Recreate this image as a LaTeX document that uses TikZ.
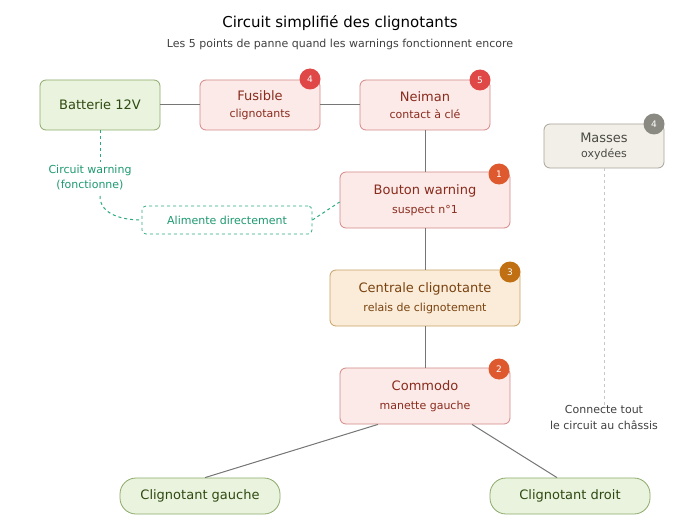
\documentclass[tikz,border=0pt]{standalone}
\usepackage{fontspec}
\setmainfont{DejaVu Sans}
\begin{document}
\begin{tikzpicture}[x=1pt,y=-1pt,
 box/.style={draw,rounded corners=6pt,line width=0.8pt,align=center,inner sep=0pt},
 green/.style={box,fill=gfill,draw=gdraw,text=gtext},
 red/.style={box,fill=rfill,draw=rdraw,text=rtext},
 badge/.style={circle,fill=#1,text=white,font=\fontsize{9}{10}\selectfont,minimum size=21pt,inner sep=0pt},
 wire/.style={draw=wirec,line width=1pt},
 gdash/.style={draw=gdash,dashed,line width=1pt}]
\definecolor{gfill}{HTML}{EAF3DD}\definecolor{gdraw}{HTML}{8DAA6B}\definecolor{gtext}{HTML}{2E4A12}
\definecolor{rfill}{HTML}{FBEAE7}\definecolor{rdraw}{HTML}{D48787}\definecolor{rtext}{HTML}{8A2B1E}
\definecolor{ofill}{HTML}{FAECD8}\definecolor{odraw}{HTML}{C9A266}\definecolor{otext}{HTML}{7A4210}
\definecolor{mfill}{HTML}{F2EFE8}\definecolor{mdraw}{HTML}{A8A49A}\definecolor{mtext}{HTML}{4A4A44}
\definecolor{wirec}{HTML}{767676}\definecolor{gdash}{HTML}{2EAA82}\definecolor{gtxt}{HTML}{1E9A70}
\definecolor{bred}{HTML}{E04848}\definecolor{bora}{HTML}{DE5A2E}\definecolor{bamb}{HTML}{C07012}\definecolor{bgray}{HTML}{8A8A82}
\useasboundingbox[fill=white] (0,0) rectangle (680,524);
\node[font=\fontsize{15}{17}\selectfont] (title) at (340,23) {Circuit simplifié des clignotants};
\node[font=\fontsize{11}{13}\selectfont,text=black!75] (sub) at (340,44) {Les 5 points de panne quand les warnings fonctionnent encore};

\node[green,minimum width=120pt,minimum height=50pt] (bat) at (100,105) {\fontsize{13}{15}\selectfont Batterie 12V};
\node[red,minimum width=120pt,minimum height=50pt] (fus) at (260,105) {{\fontsize{13}{15}\selectfont Fusible}\\[5pt]{\fontsize{11}{12}\selectfont clignotants}};
\node[red,minimum width=130pt,minimum height=50pt] (nei) at (425,105) {{\fontsize{13}{15}\selectfont Neiman}\\[5pt]{\fontsize{11}{12}\selectfont contact à clé}};
\node[red,minimum width=170pt,minimum height=56pt] (bou) at (425,200) {{\fontsize{13}{15}\selectfont Bouton warning}\\[7pt]{\fontsize{11}{12}\selectfont suspect n°1}};
\node[box,fill=ofill,draw=odraw,text=otext,minimum width=190pt,minimum height=56pt] (cen) at (425,298) {{\fontsize{13}{15}\selectfont Centrale clignotante}\\[7pt]{\fontsize{11}{12}\selectfont relais de clignotement}};
\node[red,minimum width=170pt,minimum height=56pt] (com) at (425,396) {{\fontsize{13}{15}\selectfont Commodo}\\[7pt]{\fontsize{11}{12}\selectfont manette gauche}};
\node[green,rounded corners=16pt,minimum width=160pt,minimum height=36pt] (cg) at (200,496) {\fontsize{13}{15}\selectfont Clignotant gauche};
\node[green,rounded corners=16pt,minimum width=160pt,minimum height=36pt] (cd) at (570,496) {\fontsize{13}{15}\selectfont Clignotant droit};
\node[box,fill=mfill,draw=mdraw,text=mtext,minimum width=120pt,minimum height=44pt] (mas) at (604,146) {{\fontsize{13}{15}\selectfont Masses}\\[3pt]{\fontsize{11}{12}\selectfont oxydées}};

\node[badge=bred] (b4) at (310,79) {4};
\node[badge=bred] (b5) at (480,80) {5};
\node[badge=bora] (b1) at (499,174) {1};
\node[badge=bamb] (b3) at (510,272) {3};
\node[badge=bora] (b2) at (499,369) {2};
\node[badge=bgray] (b4b) at (654,124) {4};

\node[draw=gdash,dashed,line width=0.8pt,rounded corners=4pt,fill=white,text=gtxt,minimum width=170pt,minimum height=28pt,font=\fontsize{11}{12}\selectfont] (ali) at (227,220) {Alimente directement};
\node[text=gtxt,align=center,font=\fontsize{11}{15}\selectfont] (cw) at (90,178) {Circuit warning\\(fonctionne)};
\node[text=black!75,align=center,font=\fontsize{11}{16}\selectfont] (ct) at (604,417) {Connecte tout\\le circuit au châssis};

\coordinate (w1) at (100,162);
\coordinate (w2) at (100,196);
\draw[wire] (bat) -- (fus);
\draw[wire] (fus) -- (nei);
\draw[wire] (nei) -- (bou);
\draw[wire] (bou) -- (cen);
\draw[wire] (cen) -- (com);
\draw[wire] (com.south) ++(-47,0) coordinate (c1) -- ([xshift=5pt]cg.north);
\draw[wire] (com.south) ++(47,0) coordinate (c2) -- ([xshift=-13pt]cd.north);
\draw[gdash] (bat.south) -- (w1);
\draw[gdash] (w2) to[out=-90,in=180] (ali.west);
\draw[gdash] (ali.east) -- ([yshift=-2pt]bou.west);
\draw[draw=black!22,dashed,line width=1pt] (mas.south) -- ([yshift=-4pt]ct.north);
\end{tikzpicture}
\end{document}
